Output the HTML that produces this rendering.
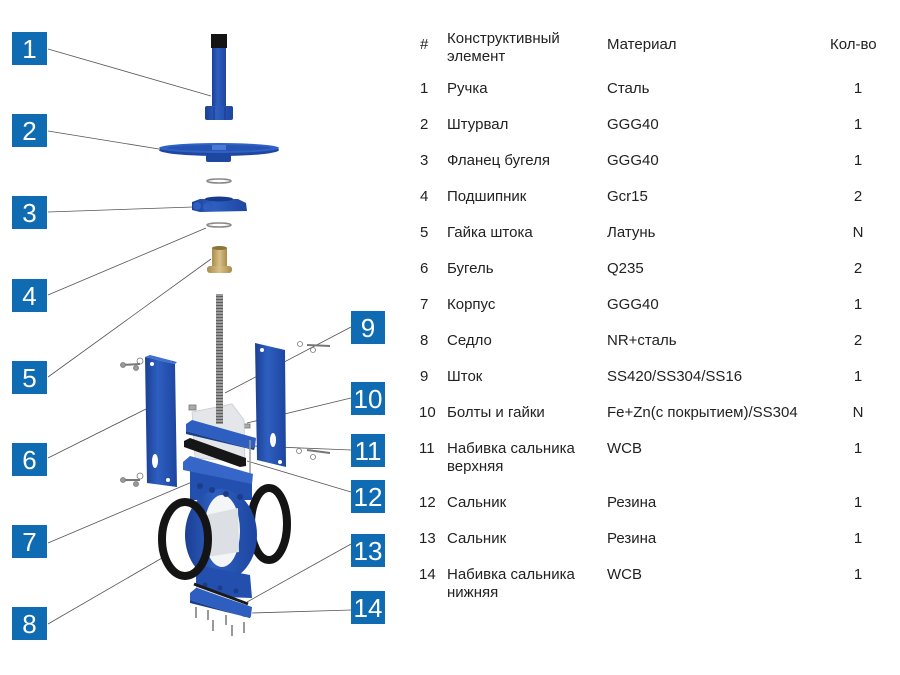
<!DOCTYPE html>
<html><head><meta charset="utf-8"><style>
html,body{margin:0;padding:0;background:#fff;}
svg{display:block;}
.t{font-family:"Liberation Sans","DejaVu Sans",sans-serif;font-size:15px;fill:#222;}
.n{font-family:"Liberation Sans",sans-serif;font-size:26px;fill:#fff;font-weight:300;}
</style></head><body>
<svg width="900" height="675" viewBox="0 0 900 675" xmlns="http://www.w3.org/2000/svg">
<defs>
<linearGradient id="bl" x1="0" x2="1" y1="0" y2="0">
<stop offset="0" stop-color="#1b3f95"/><stop offset="0.4" stop-color="#2e5fc0"/><stop offset="1" stop-color="#1d45a0"/>
</linearGradient>
<linearGradient id="br" x1="0" x2="1"><stop offset="0" stop-color="#a88c4a"/><stop offset="0.5" stop-color="#d8c089"/><stop offset="1" stop-color="#a88c4a"/></linearGradient>
<pattern id="thr" width="7" height="3" patternUnits="userSpaceOnUse"><rect width="7" height="3" fill="#9a9a9a"/><rect y="2" width="7" height="1" fill="#5e5e5e"/></pattern>
</defs>

<!-- connector lines -->
<g stroke="#555" stroke-width="0.8" fill="none">
<line x1="48" y1="49" x2="211" y2="96"/>
<line x1="48" y1="131" x2="159" y2="149"/>
<line x1="48" y1="212" x2="193" y2="207"/>
<line x1="48" y1="295" x2="206" y2="228"/>
<line x1="48" y1="377" x2="211" y2="259"/>
<line x1="48" y1="458" x2="146" y2="409"/>
<line x1="48" y1="543" x2="192" y2="482"/>
<line x1="48" y1="624" x2="162" y2="558"/>
<line x1="351" y1="327" x2="225" y2="393"/>
<line x1="351" y1="398" x2="247" y2="423"/>
<line x1="351" y1="450" x2="252" y2="446"/>
<line x1="351" y1="492" x2="247" y2="461"/>
<line x1="351" y1="544" x2="247" y2="602"/>
<line x1="351" y1="610" x2="252" y2="613"/>
</g>

<!-- handle -->
<rect x="211" y="34" width="16" height="14" fill="#141414"/>
<rect x="212" y="48" width="14" height="59" fill="url(#bl)"/>
<rect x="205" y="106" width="28" height="14" rx="2" fill="url(#bl)"/>
<line x1="214" y1="107" x2="214" y2="120" stroke="#173a8a" stroke-width="1"/>
<line x1="225" y1="107" x2="225" y2="120" stroke="#173a8a" stroke-width="1"/>

<!-- handwheel -->
<rect x="206" y="150" width="25" height="12" rx="2" fill="#1e47a2"/>
<ellipse cx="219" cy="150" rx="60" ry="6" fill="#1e47a2"/>
<ellipse cx="219" cy="148" rx="60" ry="5" fill="#2f62c4"/>
<ellipse cx="219" cy="148" rx="52" ry="3" fill="#2554b3"/>
<rect x="212" y="145" width="14" height="5" fill="#4a7ad6"/>

<!-- washer -->
<ellipse cx="219" cy="181" rx="12" ry="2" fill="none" stroke="#888" stroke-width="1.5"/>

<!-- flange -->
<path d="M200 199 L238 199 L246 203 L247 211 L200 212 L192 210 L192 202 Z" fill="url(#bl)"/>
<ellipse cx="219" cy="199" rx="14" ry="2.5" fill="#173a8a"/>
<circle cx="197" cy="206" r="4" fill="#2e5fc0"/><circle cx="207" cy="207" r="4" fill="#2e5fc0"/>

<ellipse cx="219" cy="225" rx="12" ry="2" fill="none" stroke="#888" stroke-width="1.5"/>

<!-- brass nut -->
<rect x="212" y="248" width="15" height="20" fill="url(#br)"/>
<ellipse cx="219.5" cy="248" rx="7.5" ry="2" fill="#8c7436"/>
<rect x="207" y="266" width="25" height="7" rx="3" fill="url(#br)"/>

<!-- stem -->
<rect x="216" y="294" width="7" height="126" fill="url(#thr)"/>

<!-- bolts near brackets -->
<g fill="#999" stroke="#777" stroke-width="0.8">
<line x1="122" y1="365" x2="140" y2="364" stroke-width="2"/><circle cx="123" cy="365" r="2.5"/>
<circle cx="140" cy="361" r="3" fill="none"/><circle cx="136" cy="368" r="2.5"/>
<line x1="122" y1="480" x2="140" y2="480" stroke-width="2"/><circle cx="123" cy="480" r="2.5"/>
<circle cx="140" cy="476" r="3" fill="none"/><circle cx="136" cy="484" r="2.5"/>
<circle cx="300" cy="344" r="2.5" fill="none"/><line x1="307" y1="345" x2="330" y2="346" stroke-width="2"/><circle cx="313" cy="350" r="2.5" fill="none"/>
<circle cx="299" cy="451" r="2.5" fill="none"/><line x1="307" y1="450" x2="330" y2="453" stroke-width="2"/><circle cx="313" cy="457" r="2.5" fill="none"/>
<rect x="189" y="405" width="7" height="5" fill="#aaa"/>
<rect x="243" y="424" width="7" height="4" fill="#aaa"/>
</g>

<!-- left bracket -->
<path d="M145 357 L175 364 L177 487 L147 483 Z" fill="url(#bl)"/>
<path d="M145 357 L150 355 L177 362 L175 364 Z" fill="#3c6fd0"/>
<ellipse cx="155" cy="461" rx="3" ry="7" fill="#fff"/>
<circle cx="152" cy="364" r="2" fill="#fff"/><circle cx="168" cy="480" r="2" fill="#fff"/>

<!-- right bracket -->
<path d="M255 343 L285 350 L286 467 L257 460 Z" fill="url(#bl)"/>
<ellipse cx="273" cy="440" rx="3" ry="7" fill="#fff"/>
<circle cx="262" cy="350" r="2" fill="#fff"/><circle cx="280" cy="462" r="2" fill="#fff"/>

<!-- right seal ring (behind) -->
<ellipse cx="269" cy="524" rx="18" ry="36" fill="none" stroke="#141414" stroke-width="8"/>

<!-- gate plate -->
<path d="M192 412 L232 404 L244 420 L245 462 L195 458 Z" fill="#e4e6ea" stroke="#c8ccd2" stroke-width="0.8"/>
<rect x="216" y="394" width="7" height="30" fill="url(#thr)"/>

<!-- gland (blue) -->
<path d="M186 424 L192 420 L256 438 L255 447 L248 448 L186 431 Z" fill="#2d5ec0"/>
<path d="M186 431 L248 448 L255 447 L254 450 L186 434 Z" fill="#1a3f8f"/>

<!-- packing (black) -->
<path d="M184 441 L190 438 L246 458 L246 466 L240 467 L184 447 Z" fill="#161616"/>
<line x1="250" y1="440" x2="250" y2="495" stroke="#999" stroke-width="1.5"/>

<!-- body -->
<path d="M190 465 L252 480 L252 500 L190 500 Z" fill="#234fae"/>
<ellipse cx="221" cy="535" rx="36" ry="46" fill="url(#bl)"/>
<path d="M196 565 L250 575 L252 598 L196 596 Z" fill="#234fae"/>
<path d="M183 462 L190 456 L253 474 L252 484 L183 470 Z" fill="#3566c8"/>
<ellipse cx="222" cy="531" rx="18" ry="36" fill="#f4f5f7"/>
<path d="M206 515 L238 508 L239 552 L207 557 Z" fill="#dcdfe4"/>
<g fill="#1a3d88"><circle cx="200" cy="486" r="3"/><circle cx="212" cy="490" r="3"/><circle cx="226" cy="494" r="3"/><circle cx="240" cy="497" r="3"/><circle cx="205" cy="585" r="2.5"/><circle cx="220" cy="588" r="2.5"/><circle cx="236" cy="591" r="2.5"/></g>

<!-- left seal ring (front) -->
<ellipse cx="185" cy="539" rx="23" ry="37" fill="none" stroke="#141414" stroke-width="8"/>

<!-- bottom packing strip -->
<line x1="194" y1="584" x2="248" y2="604" stroke="#1a1a1a" stroke-width="3"/>
<line x1="196" y1="587" x2="248" y2="606" stroke="#ddd" stroke-width="1"/>

<!-- bottom plate -->
<path d="M190 593 L196 588 L252 607 L251 616 L245 617 L190 600 Z" fill="#2d5ec0"/>
<path d="M190 600 L245 617 L251 616 L250 618 L190 603 Z" fill="#1a3f8f"/>

<!-- bottom bolts -->
<g stroke="#777" stroke-width="1.5">
<line x1="196" y1="607" x2="196" y2="618"/><line x1="208" y1="610" x2="208" y2="620"/>
<line x1="213" y1="620" x2="213" y2="631"/><line x1="226" y1="615" x2="226" y2="625"/>
<line x1="232" y1="625" x2="232" y2="636"/><line x1="244" y1="622" x2="244" y2="633"/>
</g>

<!-- number boxes -->
<g fill="#0f6bb2">
<rect x="12" y="32" width="35" height="33"/>
<rect x="12" y="114" width="35" height="33"/>
<rect x="12" y="196" width="35" height="33"/>
<rect x="12" y="279" width="35" height="33"/>
<rect x="12" y="361" width="35" height="33"/>
<rect x="12" y="443" width="35" height="33"/>
<rect x="12" y="525" width="35" height="33"/>
<rect x="12" y="607" width="35" height="33"/>
<rect x="351" y="311" width="34" height="33"/>
<rect x="351" y="382" width="34" height="33"/>
<rect x="351" y="434" width="34" height="33"/>
<rect x="351" y="480" width="34" height="33"/>
<rect x="351" y="534" width="34" height="33"/>
<rect x="351" y="591" width="34" height="33"/>
</g>
<g class="n" text-anchor="middle">
<text x="29.5" y="58">1</text>
<text x="29.5" y="140">2</text>
<text x="29.5" y="222">3</text>
<text x="29.5" y="305">4</text>
<text x="29.5" y="387">5</text>
<text x="29.5" y="469">6</text>
<text x="29.5" y="551">7</text>
<text x="29.5" y="633">8</text>
<text x="368" y="337">9</text>
<text x="368" y="408">10</text>
<text x="368" y="460">11</text>
<text x="368" y="506">12</text>
<text x="368" y="560">13</text>
<text x="368" y="617">14</text>
</g>

<!-- table -->
<g class="t">
<text x="420" y="49">#</text>
<text x="447" y="43">Конструктивный</text>
<text x="447" y="61">элемент</text>
<text x="607" y="49">Материал</text>
<text x="830" y="49">Кол-во</text>

<text x="420" y="93">1</text><text x="447" y="93">Ручка</text><text x="607" y="93">Сталь</text><text x="858" y="93" text-anchor="middle">1</text>
<text x="420" y="129">2</text><text x="447" y="129">Штурвал</text><text x="607" y="129">GGG40</text><text x="858" y="129" text-anchor="middle">1</text>
<text x="420" y="165">3</text><text x="447" y="165">Фланец бугеля</text><text x="607" y="165">GGG40</text><text x="858" y="165" text-anchor="middle">1</text>
<text x="420" y="201">4</text><text x="447" y="201">Подшипник</text><text x="607" y="201">Gcr15</text><text x="858" y="201" text-anchor="middle">2</text>
<text x="420" y="237">5</text><text x="447" y="237">Гайка штока</text><text x="607" y="237">Латунь</text><text x="858" y="237" text-anchor="middle">N</text>
<text x="420" y="273">6</text><text x="447" y="273">Бугель</text><text x="607" y="273">Q235</text><text x="858" y="273" text-anchor="middle">2</text>
<text x="420" y="309">7</text><text x="447" y="309">Корпус</text><text x="607" y="309">GGG40</text><text x="858" y="309" text-anchor="middle">1</text>
<text x="420" y="345">8</text><text x="447" y="345">Седло</text><text x="607" y="345">NR+сталь</text><text x="858" y="345" text-anchor="middle">2</text>
<text x="420" y="381">9</text><text x="447" y="381">Шток</text><text x="607" y="381">SS420/SS304/SS16</text><text x="858" y="381" text-anchor="middle">1</text>
<text x="419" y="417">10</text><text x="447" y="417">Болты и гайки</text><text x="607" y="417">Fe+Zn(с покрытием)/SS304</text><text x="858" y="417" text-anchor="middle">N</text>
<text x="419" y="453">11</text><text x="447" y="453">Набивка сальника</text><text x="447" y="471">верхняя</text><text x="607" y="453">WCB</text><text x="858" y="453" text-anchor="middle">1</text>
<text x="419" y="507">12</text><text x="447" y="507">Сальник</text><text x="607" y="507">Резина</text><text x="858" y="507" text-anchor="middle">1</text>
<text x="419" y="543">13</text><text x="447" y="543">Сальник</text><text x="607" y="543">Резина</text><text x="858" y="543" text-anchor="middle">1</text>
<text x="419" y="579">14</text><text x="447" y="579">Набивка сальника</text><text x="447" y="597">нижняя</text><text x="607" y="579">WCB</text><text x="858" y="579" text-anchor="middle">1</text>
</g>
</svg>
</body></html>
